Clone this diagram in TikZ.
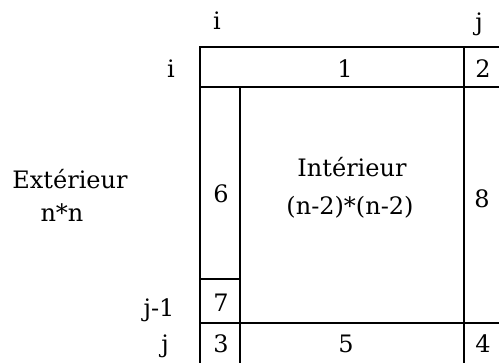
\documentclass[tikz,border=0pt]{standalone}
\usepackage{fontspec}
\setmainfont{DejaVu Serif}
\begin{document}
\begin{tikzpicture}[x=1pt,y=-1pt,line width=1.5pt,
  lbl/.style={anchor=base,inner sep=0pt,font=\fontsize{24}{28}\selectfont}]
\useasboundingbox (0,0) rectangle (499,363);
\begin{scope}
\clip (0,0) rectangle (499,363);
\draw (200,47) rectangle (530,390);
\draw (200,87) -- (530,87);
\draw (200,323) -- (530,323);
\draw (464,47) -- (464,390);
\draw (240,87) -- (240,390);
\draw (200,279) -- (240,279);
\end{scope}
\node[lbl] (ci) at (217,30) {i};
\node[lbl] (cj) at (479,31) {j};
\node[lbl] (ri) at (171,78) {i};
\node[lbl] (rj1) at (159,317) {j-1};
\node[lbl] (rj) at (165,353) {j};
\node[lbl] (n1) at (345,78) {1};
\node[lbl] (n2) at (483,78) {2};
\node[lbl] (n6) at (221,203) {6};
\node[lbl] (n8) at (482,208) {8};
\node[lbl] (n7) at (221,312) {7};
\node[lbl] (n3) at (221,353) {3};
\node[lbl] (n5) at (346,353) {5};
\node[lbl] (n4) at (483,353) {4};
\node[lbl] (int) at (352,177) {Intérieur};
\node[lbl] (intsz) at (350,215) {(n-2)*(n-2)};
\node[lbl] (ext) at (70,189) {Extérieur};
\node[lbl] (extsz) at (62,222) {n*n};
\end{tikzpicture}
\end{document}
